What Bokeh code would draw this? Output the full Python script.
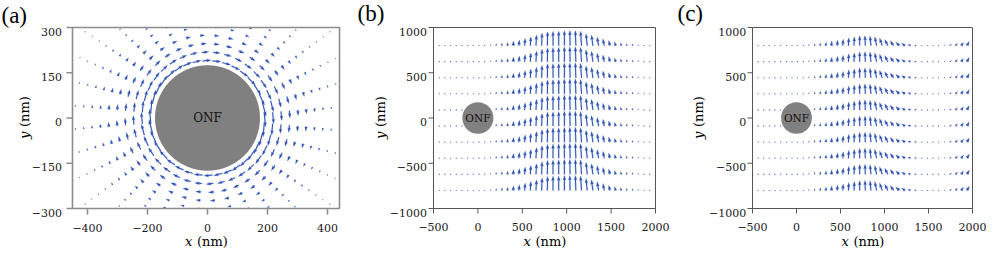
import math
from bokeh.plotting import figure
from bokeh.layouts import row
from bokeh.models import Range1d
from bokeh.core.properties import value
from bokeh.embed import file_html
from bokeh.resources import INLINE

# ---------------- data ----------------
fiber_radius = 175
fiber_center = [0, 0]
fiber_text = "ONF"

# panel (a): polar sampling grid around the fibre, arrows tangential (clockwise)
ring_r_a = [190, 218, 246, 274, 302, 330, 358, 386, 414, 442, 470, 498, 526, 554]
ring_len_a = [40, 33, 26, 21, 16, 13, 10, 8, 6, 5, 4, 3, 2.5, 2]
spoke_deg_a = [5, 15, 25, 35, 45, 55, 65, 75, 85, 95, 105, 115, 125, 135, 145, 155, 165, 175,
               185, 195, 205, 215, 225, 235, 245, 255, 265, 275, 285, 295, 305, 315, 325, 335, 345, 355]
spoke_gain_a = [1.15, 1.12, 1.05, 0.97, 0.9, 0.83, 0.77, 0.73, 0.71, 0.71, 0.73, 0.77, 0.83, 0.9, 0.97, 1.05, 1.12, 1.15,
                1.15, 1.12, 1.05, 0.97, 0.9, 0.83, 0.77, 0.73, 0.71, 0.71, 0.73, 0.77, 0.83, 0.9, 0.97, 1.05, 1.12, 1.15]

# panels (b), (c): rectangular sampling grid
cols_x = [-500, -436, -372, -308, -244, -179, -115, -51, 13, 77, 141, 205, 269, 333, 397, 462,
          526, 590, 654, 718, 782, 846, 910, 974, 1038, 1103, 1167, 1231, 1295, 1359, 1423,
          1487, 1551, 1615, 1679, 1744, 1808, 1872, 1936, 2000]
rows_y = [-800, -622, -444, -267, -89, 89, 267, 444, 622, 800]

# arrow magnitude (nm) and tilt from vertical (deg, + = leaning left) per column
mag_b = [3, 3, 3, 3, 3, 3, 3, 3, 3, 8, 14, 22, 30, 36, 52, 63, 81, 99, 118, 140,
         155, 158, 160, 166, 166, 166, 160, 133, 118, 96, 77, 59, 44, 33, 25, 22, 14, 11, 8, 3]
tilt_b = [0, 0, 0, 0, 0, 0, 0, 0, 0, 0, 0, -5, -6, -6, -6, -5, -5, -4, -3, -2,
          -1, 0, 0, 0, 1, 2, 4, 6, 8, 10, 12, 14, 16, 18, 20, 22, 24, 26, 28, 0]
mag_c = [3, 3, 3, 3, 3, 3, 3, 3, 3, 8, 14, 22, 30, 39, 50, 61, 72, 88, 99, 110,
         112, 108, 100, 88, 77, 66, 55, 44, 33, 22, 11, 6, 4, 6, 12, 22, 33, 44, 55, 3]
tilt_c = [0, 0, 0, 0, 0, 0, 0, 0, 0, 0, 0, -6, -6, -6, -5, -5, -4, -3, -2, 0,
          2, 6, 12, 20, 28, 36, 45, 55, 65, 80, 95, 100, 0, -90, -70, -50, -42, -36, -32, -30]

ticks_a_x = [-400, -200, 0, 200, 400]
ticks_a_y = [-300, -150, 0, 150, 300]
ticks_bc_x = [-500, 0, 500, 1000, 1500, 2000]
ticks_bc_y = [-1000, -500, 0, 500, 1000]

ARROW = "#2f51b3"
SERIF = "DejaVu Serif"
PANEL_FONT = "Liberation Serif"


def arrow_poly(x0, y0, u, v, sx, sy, w=1.0, hw=3.0, hl=4.5, hal=4.0):
    px, py = u * sx, v * sy
    L = math.hypot(px, py)
    if L < w:
        r = w / 2
        pts = [(r * math.cos(math.radians(t)), r * math.sin(math.radians(t))) for t in range(0, 360, 60)]
    else:
        s = min(1.0, L / hl)
        ww, hhw, hhl, hhal = w * s, hw * s, hl * s, hal * s
        loc = [(0, -ww / 2), (L - hhal, -ww / 2), (L - hhl, -hhw / 2), (L, 0),
               (L - hhl, hhw / 2), (L - hhal, ww / 2), (0, ww / 2)]
        c, sn = px / L, py / L
        pts = [(a * c - b * sn, a * sn + b * c) for a, b in loc]
    return [x0 + p[0] / sx for p in pts], [y0 + p[1] / sy for p in pts]


def minus(v):
    return str(v).replace("-", "\u2212")


class Panel:
    """A figure whose whole canvas is the plotting frame; the data box sits inside
    it with margins (px), and axes/labels are drawn as glyphs."""

    def __init__(self, width, height, L, R, T, B, xr, yr):
        self.xr, self.yr = xr, yr
        fw, fh = width - L - R, height - T - B
        self.sx = fw / (xr[1] - xr[0])
        self.sy = fh / (yr[1] - yr[0])
        self.x_lo, self.x_hi = xr[0] - L / self.sx, xr[1] + R / self.sx
        self.y_lo, self.y_hi = yr[0] - B / self.sy, yr[1] + T / self.sy
        p = figure(width=width, height=height, output_backend="svg", toolbar_location=None,
                   x_range=Range1d(self.x_lo, self.x_hi), y_range=Range1d(self.y_lo, self.y_hi),
                   x_axis_location=None, y_axis_location=None, min_border=0)
        p.min_border_left = p.min_border_right = p.min_border_top = p.min_border_bottom = 0
        p.grid.visible = False
        p.outline_line_color = None
        p.background_fill_color = "white"
        p.border_fill_color = "white"
        self.p = p

    def dx(self, px):
        return px / self.sx

    def dy(self, px):
        return px / self.sy

    def mask(self):
        x0, x1 = self.xr
        y0, y1 = self.yr
        self.p.quad(left=[self.x_lo, x1, x0, x0], right=[x0, self.x_hi, x1, x1],
                    bottom=[self.y_lo, self.y_lo, self.y_lo, y1], top=[self.y_hi, self.y_hi, y0, self.y_hi],
                    fill_color="white", line_color=None)

    def frame(self, color, lw, tick_len, xt, yt, xl_gap, yl_gap, font_px):
        p = self.p
        x0, x1 = self.xr
        y0, y1 = self.yr
        p.quad(left=[x0], right=[x1], bottom=[y0], top=[y1], fill_color=None,
               line_color=color, line_width=lw)
        p.segment(x0=xt, y0=[y0] * len(xt), x1=xt, y1=[y0 - self.dy(tick_len)] * len(xt),
                  line_color=color, line_width=lw)
        p.segment(x0=[x0] * len(yt), y0=yt, x1=[x0 - self.dx(tick_len)] * len(yt), y1=yt,
                  line_color=color, line_width=lw)
        p.text(x=xt, y=[y0 - self.dy(xl_gap)] * len(xt), text=[minus(t) for t in xt],
               text_font=value(SERIF), text_font_size=font_px, text_color="#1a1a1a",
               text_align="center", text_baseline="alphabetic")
        p.text(x=[x0 - self.dx(yl_gap)] * len(yt), y=[t - self.dy(4) for t in yt],
               text=[minus(t) for t in yt],
               text_font=value(SERIF), text_font_size=font_px, text_color="#1a1a1a",
               text_align="right", text_baseline="alphabetic")

    def labels(self, panel, panel_dx, panel_dy, ylab_dx):
        p = self.p
        x0, x1 = self.xr
        y0, y1 = self.yr
        xc, yc = (x0 + x1) / 2, (y0 + y1) / 2
        p.text(x=[x0 - self.dx(panel_dx)], y=[y1 + self.dy(panel_dy)], text=[panel],
               text_font=value(PANEL_FONT), text_font_size="23px", text_color="black",
               text_align="left", text_baseline="alphabetic")
        by = y0 - self.dy(33)
        p.text(x=[xc - self.dx(21)], y=[by], text=["x"], text_font=value(SERIF),
               text_font_style="italic", text_font_size="13px", text_color="black",
               text_align="left", text_baseline="alphabetic")
        p.text(x=[xc - self.dx(9)], y=[by], text=["(nm)"], text_font=value(SERIF),
               text_font_size="13px", text_color="black",
               text_align="left", text_baseline="alphabetic")
        bx = x0 - self.dx(ylab_dx)
        p.text(x=[bx], y=[yc - self.dy(21)], text=["y"], angle=math.pi / 2, text_font=value(SERIF),
               text_font_style="italic", text_font_size="13px", text_color="black",
               text_align="left", text_baseline="alphabetic")
        p.text(x=[bx], y=[yc - self.dy(9)], text=["(nm)"], angle=math.pi / 2, text_font=value(SERIF),
               text_font_size="13px", text_color="black",
               text_align="left", text_baseline="alphabetic")

    def fiber(self, font_px):
        self.p.ellipse(x=[fiber_center[0]], y=[fiber_center[1]], width=2 * fiber_radius,
                       height=2 * fiber_radius, fill_color="#808080", line_color=None)
        self.p.text(x=[fiber_center[0]], y=[fiber_center[1]], text=[fiber_text], text_align="center",
                    text_baseline="middle", text_font=value(SERIF), text_font_size=font_px,
                    text_color="#111111")


TOP, BOT = 27, 45
H = TOP + 181 + BOT

# ---------------- panel (a) ----------------
A = Panel(356, H, 72, 17, TOP, BOT, (-450, 440), (-300, 300))
xs_a, ys_a = [], []
for ang, gain in zip(spoke_deg_a, spoke_gain_a):
    t = math.radians(ang)
    for r, ln in zip(ring_r_a, ring_len_a):
        x0, y0 = r * math.cos(t), r * math.sin(t)
        m = ln * gain
        u, v = m * math.sin(t), -m * math.cos(t)
        px, py = arrow_poly(x0, y0, u, v, A.sx, A.sy, w=1.0, hw=2.9, hl=4.6, hal=4.0)
        xs_a.append(px)
        ys_a.append(py)
A.p.patches(xs_a, ys_a, fill_color=ARROW, line_color=ARROW, line_width=0.2)
A.mask()
A.fiber("12px")
A.frame("#8c8c8c", 1.6, 6, ticks_a_x, ticks_a_y, 19, 10.5, "11px")
A.labels("(a)", 71, 12, 48)


# ---------------- panels (b), (c) ----------------
def side_panel(width, L, R, mag, tilt, panel, panel_dx, ylab_dx, yl_gap):
    P = Panel(width, H, L, R, TOP, BOT, (-500, 2000), (-1000, 1000))
    xs, ys = [], []
    for yv in rows_y:
        for xv, m, tl in zip(cols_x, mag, tilt):
            t = math.radians(tl)
            u, v = -m * math.sin(t), m * math.cos(t)
            px, py = arrow_poly(xv, yv, u, v, P.sx, P.sy)
            xs.append(px)
            ys.append(py)
    P.p.patches(xs, ys, fill_color=ARROW, line_color=ARROW, line_width=0.2)
    P.mask()
    P.fiber("10.5px")
    P.frame("#555555", 1.0, 5, ticks_bc_x, ticks_bc_y, 18, yl_gap, "11px")
    P.labels(panel, panel_dx, 13.6, ylab_dx)
    return P.p


pb = side_panel(320, 77, 21, mag_b, tilt_b, "(b)", 76, 53, 6.5)
pc = side_panel(316, 76, 20, mag_c, tilt_c, "(c)", 75, 54, 6.3)

layout = row(A.p, pb, pc)
open("out.html", "w").write(file_html(layout, INLINE))
